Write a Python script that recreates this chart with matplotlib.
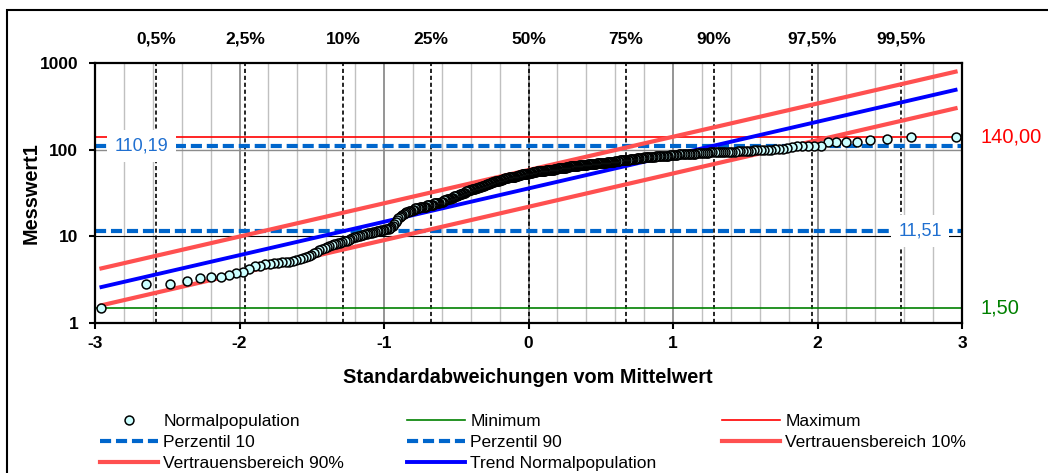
import numpy as np
import matplotlib
matplotlib.use("Agg")
import matplotlib.pyplot as plt
from matplotlib.patches import Rectangle
from matplotlib.ticker import NullLocator
from matplotlib.transforms import blended_transform_factory
from statistics import NormalDist

plt.rcParams["font.family"] = ["Liberation Sans", "DejaVu Sans"]
plt.rcParams["lines.scale_dashes"] = False

# sorted measurements (n = 400)
messwerte = [
    1.5, 2.8, 2.8, 3.05, 3.3, 3.4, 3.4, 3.6, 3.8, 3.9, 4.15, 4.5, 4.6, 4.75, 4.85, 4.9, 4.95, 5.0, 5.05, 5.1,
    5.2, 5.3, 5.45, 5.55, 5.7, 5.9, 6.1, 6.35, 6.6, 6.9, 7.1, 7.35, 7.6, 7.8, 7.95, 8.1, 8.2, 8.3, 8.45, 8.6,
    8.75, 8.9, 9.1, 9.3, 9.5, 9.7, 9.9, 10.1, 10.2, 10.3, 10.4, 10.5, 10.6, 10.8, 10.9, 11.0, 11.1, 11.3, 11.4, 11.5,
    11.6, 11.7, 11.8, 11.9, 12.0, 12.1, 12.3, 12.5, 12.7, 13.2, 14.0, 14.8, 15.5, 16.2, 16.8, 17.3, 17.7, 18.1, 18.5, 18.9,
    19.2, 19.4, 19.6, 19.8, 20, 20, 21, 21, 21, 21, 22, 22, 22, 22, 22, 22, 23, 23, 23, 23,
    23, 23, 24, 24, 24, 24, 24, 24, 25, 25, 25, 26, 26, 26, 27, 27, 27, 27, 28, 28,
    28, 29, 29, 29, 29, 30, 30, 31, 31, 31, 32, 32, 32, 33, 33, 33, 34, 34, 34, 35,
    35, 35, 35, 36, 36, 36, 37, 37, 37, 38, 38, 38, 39, 39, 40, 40, 40, 41, 41, 41,
    42, 42, 42, 43, 43, 44, 44, 44, 45, 45, 45, 46, 46, 46, 47, 47, 47, 47, 48, 48,
    48, 48, 49, 49, 49, 49, 50, 50, 50, 51, 51, 51, 52, 52, 52, 52, 53, 53, 53, 53,
    54, 54, 54, 54, 55, 55, 55, 55, 55, 56, 56, 56, 56, 56, 57, 57, 57, 57, 57, 58,
    58, 58, 58, 58, 59, 59, 59, 59, 60, 60, 60, 60, 61, 61, 61, 61, 62, 62, 62, 62,
    62, 63, 63, 63, 63, 64, 64, 64, 64, 65, 65, 65, 65, 65, 66, 66, 66, 66, 67, 67,
    67, 67, 67, 68, 68, 68, 68, 68, 69, 69, 69, 69, 70, 70, 70, 70, 70, 71, 71, 71,
    71, 71, 72, 72, 72, 72, 73, 73, 73, 73, 74, 74, 74, 74, 75, 75, 75, 76, 76, 76,
    77, 77, 77, 78, 78, 78, 79, 79, 79, 80, 80, 80, 81, 81, 81, 82, 82, 82, 82, 83,
    83, 83, 83, 83, 84, 84, 84, 84, 84, 84, 85, 85, 85, 85, 86, 86, 86, 87, 87, 87,
    88, 88, 88, 88, 89, 89, 89, 90, 90, 90, 90, 91, 91, 91, 91, 92, 92, 92, 93, 93,
    93, 93, 93, 94, 94, 94, 94, 95, 95, 95, 96, 96, 96, 97, 97, 97, 98, 98, 98, 99,
    99, 100, 101, 102, 103, 104, 106, 110, 110, 110, 111, 111, 121, 121, 121, 121, 131, 132, 140, 140,
]

# reference levels
minimum = 1.50
maximum = 140.00
perzentil_10 = 11.51
perzentil_90 = 110.19

# fitted trend and confidence limits at the first and last plotting position
trend_ends = [2.6, 490.0]
vb10_ends = [1.6, 300.0]
vb90_ends = [4.27, 794.0]

# percentile markers on the z axis
perzentil_labels = ["0,5%", "2,5%", "10%", "25%", "50%", "75%", "90%", "97,5%", "99,5%"]
perzentil_z = [-2.576, -1.960, -1.282, -0.674, 0.0, 0.674, 1.282, 1.960, 2.576]

x_ticks = [-3, -2, -1, 0, 1, 2, 3]
y_ticks = [1, 10, 100, 1000]


def de(v):
    return f"{v:.2f}".replace(".", ",")


# Blom plotting positions
n = len(messwerte)
nd = NormalDist()
z = np.array([nd.inv_cdf((i - 0.375) / (n + 0.25)) for i in range(1, n + 1)])
z_ends = [z[0], z[-1]]

W, H = 1048, 473
fig = plt.figure(figsize=(W / 100, H / 100), dpi=100)
ax = fig.add_axes([95 / W, 1 - 323 / H, 867 / W, 260 / H])

ax.set_xlim(-3, 3)
ax.set_yscale("log")
ax.set_ylim(1, 1000)

# vertical grid every 0.2 standard deviations
for v in np.arange(-2.8, 2.81, 0.2):
    if abs(v - round(v)) < 1e-6:
        ax.axvline(v, color="#8C8C8C", lw=1.3, zorder=1)
    else:
        ax.axvline(v, color="#C0C0C0", lw=1.0, zorder=1)
ax.axhline(10, color="black", lw=0.8, zorder=1)
ax.axhline(100, color="#8C8C8C", lw=1.0, zorder=1)

for pz in perzentil_z:
    ax.axvline(pz, color="black", lw=1.2, dashes=(3, 2), zorder=2)

ln_min = ax.axhline(minimum, color="#008000", lw=1.2, zorder=3, label="Minimum")
ln_max = ax.axhline(maximum, color="#FF0000", lw=1.2, zorder=3, label="Maximum")
ln_p10 = ax.axhline(perzentil_10, color="#0066CC", lw=3.0, dashes=(8, 3.5), zorder=3, label="Perzentil 10")
ln_p90 = ax.axhline(perzentil_90, color="#0066CC", lw=3.0, dashes=(8, 3.5), zorder=3, label="Perzentil 90")

ln_vb10, = ax.plot(z_ends, vb10_ends, color="#FF5050", lw=3.0, zorder=4, label="Vertrauensbereich 10%")
ln_vb90, = ax.plot(z_ends, vb90_ends, color="#FF5050", lw=3.0, zorder=4, label="Vertrauensbereich 90%")
ln_trend, = ax.plot(z_ends, trend_ends, color="#0000FF", lw=2.8, zorder=4, label="Trend Normalpopulation")

# markers are painted from the largest value down, so each one sits on its right neighbour
pts, = ax.plot(z[::-1], messwerte[::-1], ls="none", marker="o", ms=6.4, mfc="#CCFFFF",
               mec="black", mew=1.1, zorder=10, label="Normalpopulation")

# value labels
box = dict(boxstyle="square,pad=0.42", fc="white", ec="none")
ax.text(-2.68, perzentil_90, de(perzentil_90), color="#1F6FD0", fontsize=13,
        ha="center", va="center", bbox=box, zorder=8)
ax.text(2.71, perzentil_10, de(perzentil_10), color="#1F6FD0", fontsize=13,
        ha="center", va="center", bbox=box, zorder=8)
side = blended_transform_factory(ax.transAxes, ax.transData)
ax.text(1.0215, maximum, de(maximum), color="#FF0000", fontsize=14.5, ha="left",
        va="center", transform=side, clip_on=False)
ax.text(1.0215, minimum, de(minimum), color="#008000", fontsize=14.5, ha="left",
        va="center", transform=side, clip_on=False)

top = blended_transform_factory(ax.transData, fig.transFigure)
for lab, pz in zip(perzentil_labels, perzentil_z):
    ax.text(pz, 1 - 39 / H, lab, ha="center", va="center", fontsize=12.5,
            fontweight="bold", transform=top, clip_on=False)

ax.set_xticks(x_ticks)
ax.set_xticklabels([str(t) for t in x_ticks])
ax.set_yticks(y_ticks)
ax.set_yticklabels([str(t) for t in y_ticks])
ax.yaxis.set_minor_locator(NullLocator())
ax.xaxis.set_minor_locator(NullLocator())
for lbl in ax.get_xticklabels() + ax.get_yticklabels():
    lbl.set_fontweight("bold")
    lbl.set_fontsize(12.5)
ax.tick_params(axis="both", direction="out", length=4, width=1.5, color="black")
ax.tick_params(axis="x", pad=5)
ax.tick_params(axis="y", pad=8)
for sp in ax.spines.values():
    sp.set_linewidth(1.6)
    sp.set_color("black")
    sp.set_zorder(11)

fig.text(31 / W, 1 - 193 / H, "Messwert1", rotation=90, ha="center", va="center",
         fontsize=14.3, fontweight="bold")
fig.text(528 / W, 1 - 377 / H, "Standardabweichungen vom Mittelwert", ha="center",
         va="center", fontsize=14.3, fontweight="bold")

# legend in three columns
columns = [
    (100, [pts, ln_p10, ln_vb90]),
    (407, [ln_min, ln_p90, ln_trend]),
    (722, [ln_max, ln_vb10]),
]
for x0, handles in columns:
    fig.legend(handles=handles, labels=[h.get_label() for h in handles],
               loc="upper left", bbox_to_anchor=(x0 / W, 1 - 414 / H),
               frameon=False, fontsize=12.5, handlelength=3.35, handletextpad=0.3,
               labelspacing=0.34, borderpad=0, borderaxespad=0, numpoints=1)

# outer frame
fig.add_artist(Rectangle((7 / W, -0.1), 1.2, 1.1 - 10 / H, fill=False, ec="black",
                         lw=1.5, transform=fig.transFigure))

fig.savefig("out.png", dpi=100)
